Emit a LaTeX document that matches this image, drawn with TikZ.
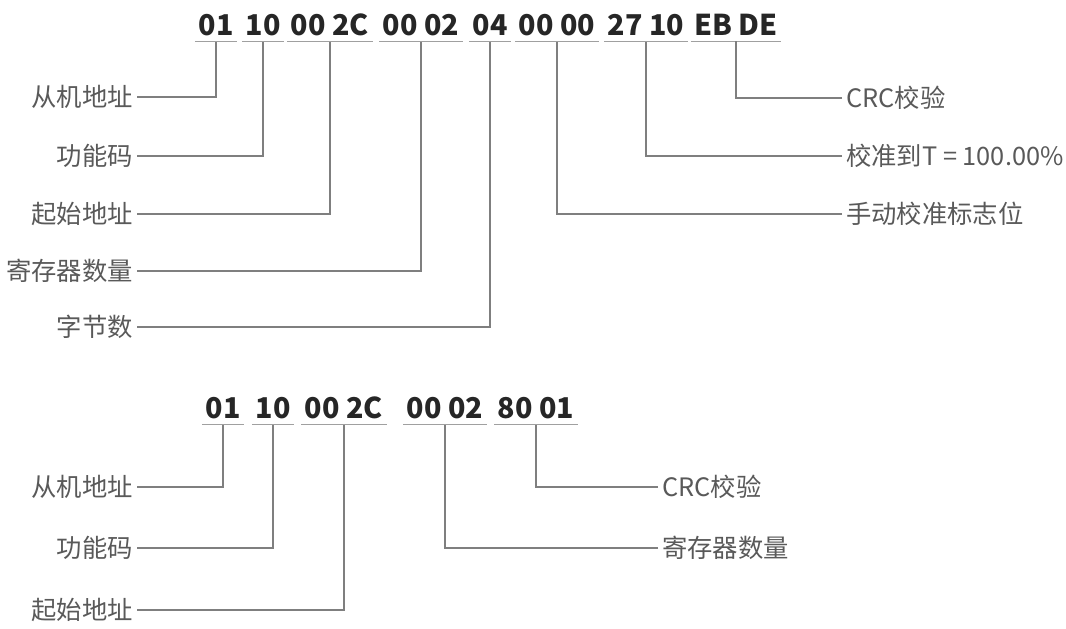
\documentclass[tikz,border=0pt]{standalone}
\usepackage{fontspec}
\setmainfont{Noto Sans CJK SC}
\usepackage{tikz}
\usetikzlibrary{positioning,calc}
\definecolor{hexdark}{HTML}{262626}
\definecolor{labelgray}{HTML}{595959}
\definecolor{linegray}{HTML}{7F7F7F}
\definecolor{ulgray}{HTML}{A0A0A0}

\begin{document}
\begin{tikzpicture}[x=0.75pt,y=-0.75pt,
  hexgrp/.style={anchor=base,font=\fontsize{21.5}{24}\selectfont\bfseries,text=hexdark,
    inner xsep=2.5pt,inner ysep=4.5pt},
  uline/.style={ulgray,line width=0.8pt},
  lefttxt/.style={anchor=east,font=\fontsize{19}{22}\selectfont,text=labelgray,inner xsep=3pt,inner ysep=0pt},
  righttxt/.style={anchor=west,font=\fontsize{19}{22}\selectfont,text=labelgray,inner xsep=3pt,inner ysep=0pt},
  link/.style={linegray,line width=1.1pt}]
\useasboundingbox (0,0) rectangle (1066,628);
% first frame
\foreach \x/\n/\t in {216/t1/01,263/t2/10,330/t3/00 2C,421/t4/00 02,490/t5/04,557/t6/00 00,646/t7/27 10,736/t8/EB DE}{
  \node[hexgrp] (\n) at (\x,35) {\t};
  \draw[uline] (\n.south west) -- (\n.south east);
}
\foreach \l/\g/\y/\t in {la1/t1/97/从机地址,la2/t2/156/功能码,la3/t3/214/起始地址,la4/t4/271/寄存器数量,la5/t5/327/字节数}{
  \node[lefttxt] (\l) at (137,\y) {\t};
  \draw[link] (\l.east) -| (\g.south);
}
\foreach \l/\g/\y/\t in {ra1/t8/98/CRC校验,ra2/t7/156/校准到T = 100.00\%,ra3/t6/214/手动校准标志位}{
  \node[righttxt] (\l) at (842,\y) {\t};
  \draw[link] (\l.west) -| (\g.south);
}
% second frame
\foreach \x/\n/\t in {223/b1/01,273/b2/10,344/b3/00 2C,445/b4/00 02,536/b5/80 01}{
  \node[hexgrp] (\n) at (\x,418) {\t};
  \draw[uline] (\n.south west) -- (\n.south east);
}
\foreach \l/\g/\y/\t in {lb1/b1/487/从机地址,lb2/b2/548/功能码,lb3/b3/610/起始地址}{
  \node[lefttxt] (\l) at (137,\y) {\t};
  \draw[link] (\l.east) -| (\g.south);
}
\foreach \l/\g/\y/\t in {rb1/b5/487/CRC校验,rb2/b4/548/寄存器数量}{
  \node[righttxt] (\l) at (658,\y) {\t};
  \draw[link] (\l.west) -| (\g.south);
}
\end{tikzpicture}
\end{document}
